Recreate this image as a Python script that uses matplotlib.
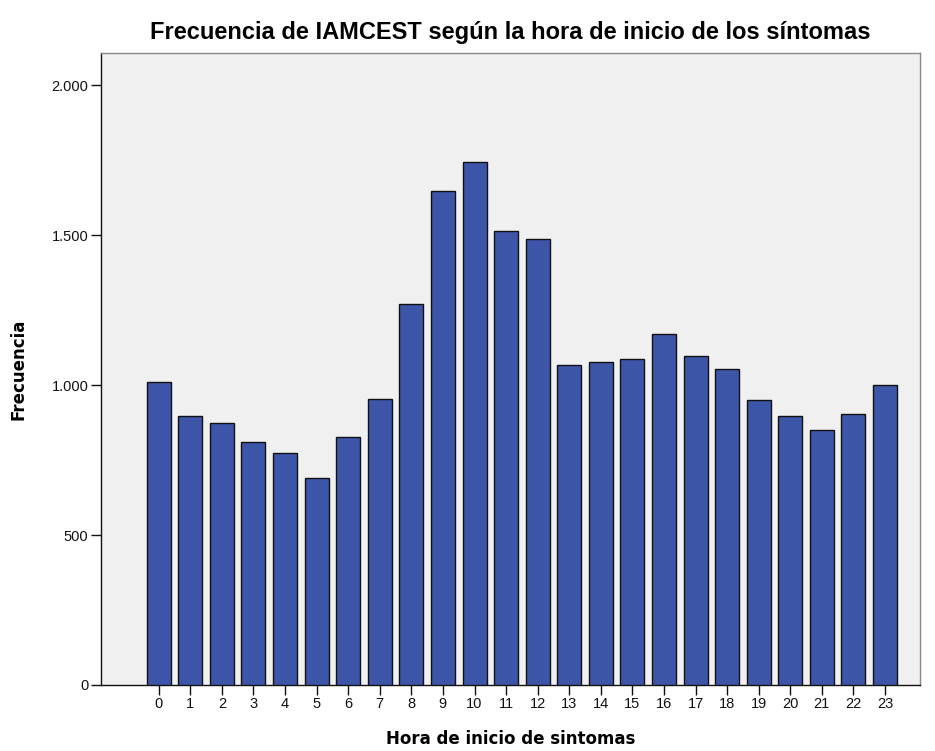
import matplotlib
matplotlib.use("Agg")
import matplotlib.pyplot as plt
from matplotlib.ticker import FuncFormatter


horas = list(range(24))
frecuencia = [1011, 897, 874, 810, 774, 690, 828, 954, 1270, 1647, 1743, 1514,
              1489, 1069, 1078, 1086, 1172, 1096, 1053, 952, 897, 849, 903, 1001]
y_ticks = [0, 500, 1000, 1500, 2000]


def miles(v, pos):
    # separador de miles con punto, estilo SPSS en español
    return f"{int(v):,}".replace(",", ".")


fig = plt.figure(figsize=(9.35, 7.51), dpi=100)
ax = fig.add_axes([101 / 935, 1 - 685 / 751, 819 / 935, 632 / 751])

ax.set_facecolor("#f0f0f0")
ax.bar(horas, frecuencia, width=0.76, color="#3c55a8", edgecolor="#111111",
       linewidth=1.0, zorder=3)

ax.set_xlim(-1.83, 24.11)
ax.set_ylim(0, 2108)
ax.set_xticks(horas)
ax.set_yticks(y_ticks)
ax.yaxis.set_major_formatter(FuncFormatter(miles))

for side in ["top", "right"]:
    ax.spines[side].set_color("#888888")
    ax.spines[side].set_linewidth(1.0)
for side in ["left", "bottom"]:
    ax.spines[side].set_color("#111111")
    ax.spines[side].set_linewidth(1.0)

ax.tick_params(axis="both", direction="out", length=7, width=1, colors="#111111",
               labelsize=10.5, pad=2)
for lab in ax.get_xticklabels() + ax.get_yticklabels():
    lab.set_family("Liberation Sans")

ax.set_title("Frecuencia de IAMCEST según la hora de inicio de los síntomas",
             fontsize=17, fontweight="bold", family="Liberation Sans", pad=10)
ax.set_xlabel("Hora de inicio de sintomas", fontsize=12, fontweight="bold",
              family="DejaVu Sans")
ax.xaxis.set_label_coords(0.5, -0.071)
ax.set_ylabel("Frecuencia", fontsize=12, fontweight="bold",
              family="DejaVu Sans")
ax.yaxis.set_label_coords(-0.090, 0.5)

fig.savefig("out.png", dpi=100)
